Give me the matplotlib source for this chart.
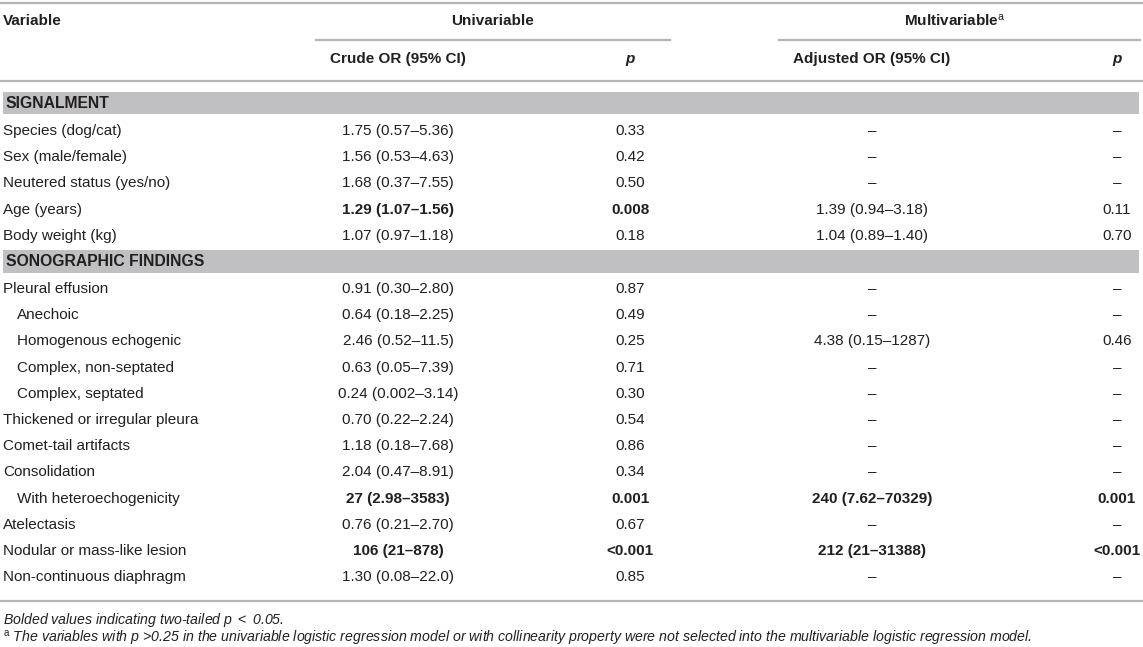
import matplotlib
matplotlib.use("Agg")
import matplotlib.pyplot as plt

plt.rcParams['font.family'] = ['Liberation Sans', 'DejaVu Sans']
plt.rcParams['mathtext.fontset'] = 'custom'
plt.rcParams['mathtext.rm'] = 'Liberation Sans'
plt.rcParams['mathtext.it'] = 'Liberation Sans:italic'
plt.rcParams['mathtext.bf'] = 'Liberation Sans:bold'

# table data
signalment_vars = ['Species (dog/cat)', 'Sex (male/female)', 'Neutered status (yes/no)',
                   'Age (years)', 'Body weight (kg)']
signalment_crude = ['1.75 (0.57–5.36)', '1.56 (0.53–4.63)', '1.68 (0.37–7.55)',
                    '1.29 (1.07–1.56)', '1.07 (0.97–1.18)']
signalment_p = ['0.33', '0.42', '0.50', '0.008', '0.18']
signalment_adj = ['–', '–', '–', '1.39 (0.94–3.18)', '1.04 (0.89–1.40)']
signalment_padj = ['–', '–', '–', '0.11', '0.70']
signalment_bold_uni = [False, False, False, True, False]
signalment_bold_multi = [False, False, False, False, False]
signalment_indent = [False] * 5

sono_vars = ['Pleural effusion', 'Anechoic', 'Homogenous echogenic', 'Complex, non-septated',
             'Complex, septated', 'Thickened or irregular pleura', 'Comet-tail artifacts',
             'Consolidation', 'With heteroechogenicity', 'Atelectasis',
             'Nodular or mass-like lesion', 'Non-continuous diaphragm']
sono_crude = ['0.91 (0.30–2.80)', '0.64 (0.18–2.25)', '2.46 (0.52–11.5)', '0.63 (0.05–7.39)',
              '0.24 (0.002–3.14)', '0.70 (0.22–2.24)', '1.18 (0.18–7.68)', '2.04 (0.47–8.91)',
              '27 (2.98–3583)', '0.76 (0.21–2.70)', '106 (21–878)', '1.30 (0.08–22.0)']
sono_p = ['0.87', '0.49', '0.25', '0.71', '0.30', '0.54', '0.86', '0.34', '0.001', '0.67',
          '<0.001', '0.85']
sono_adj = ['–', '–', '4.38 (0.15–1287)', '–', '–', '–', '–', '–', '240 (7.62–70329)', '–',
            '212 (21–31388)', '–']
sono_padj = ['–', '–', '0.46', '–', '–', '–', '–', '–', '0.001', '–', '<0.001', '–']
sono_bold_uni = [False] * 8 + [True, False, True, False]
sono_bold_multi = [False] * 8 + [True, False, True, False]
sono_indent = [False, True, True, True, True, False, False, False, True, False, False, False]

W, H = 1143, 647
fig = plt.figure(figsize=(W / 100, H / 100), dpi=100)
ax = fig.add_axes([0, 0, 1, 1])
ax.set_xlim(0, W)
ax.set_ylim(H, 0)
ax.axis('off')

txt = '#231f20'
rule = '#b4b4b4'
band = '#c0c0c2'
fs = 11

col_x = [398, 630, 872, 1117]

# header
ax.plot([0, W], [3, 3], color=rule, lw=1.6)
ax.text(3, 21, 'Variable', fontsize=fs, weight='bold', color=txt, va='center')
ax.text(493, 21, 'Univariable', fontsize=fs, weight='bold', color=txt, va='center', ha='center')
ax.text(955, 21, r'Multivariable$^{\mathrm{a}}$', fontsize=fs, weight='bold', color=txt,
        va='center', ha='center')
ax.plot([316, 670], [40, 40], color=rule, lw=1.6)
ax.plot([779, 1140], [40, 40], color=rule, lw=1.6)
ax.text(col_x[0], 59, 'Crude OR (95% CI)', fontsize=fs, weight='bold', color=txt,
        va='center', ha='center')
ax.text(col_x[1], 59, 'p', fontsize=fs, weight='bold', style='italic', color=txt,
        va='center', ha='center')
ax.text(col_x[2], 59, 'Adjusted OR (95% CI)', fontsize=fs, weight='bold', color=txt,
        va='center', ha='center')
ax.text(col_x[3], 59, 'p', fontsize=fs, weight='bold', style='italic', color=txt,
        va='center', ha='center')
ax.plot([0, W], [81, 81], color=rule, lw=1.6)

step = 26.2


def section(title, y_band, y0, names, crude, p, adj, padj, bu, bm, ind):
    ax.fill_between([3, 1139], y_band[0], y_band[1], color=band, lw=0)
    ax.text(6, (y_band[0] + y_band[1]) / 2 + 0.5, title, fontsize=11.3, weight='bold',
            color=txt, va='center')
    for i, name in enumerate(names):
        y = y0 + i * step
        ax.text(17 if ind[i] else 3, y, name, fontsize=fs, color=txt, va='center')
        wu = 'bold' if bu[i] else 'normal'
        wm = 'bold' if bm[i] else 'normal'
        ax.text(col_x[0], y, crude[i], fontsize=fs, weight=wu, color=txt, va='center', ha='center')
        ax.text(col_x[1], y, p[i], fontsize=fs, weight=wu, color=txt, va='center', ha='center')
        ax.text(col_x[2], y, adj[i], fontsize=fs, weight=wm, color=txt, va='center', ha='center')
        ax.text(col_x[3], y, padj[i], fontsize=fs, weight=wm, color=txt, va='center', ha='center')


section('SIGNALMENT', (92, 114), 131, signalment_vars, signalment_crude, signalment_p,
        signalment_adj, signalment_padj, signalment_bold_uni, signalment_bold_multi,
        signalment_indent)
section('SONOGRAPHIC FINDINGS', (250, 273), 289, sono_vars, sono_crude, sono_p,
        sono_adj, sono_padj, sono_bold_uni, sono_bold_multi, sono_indent)

ax.plot([0, W], [601, 601], color=rule, lw=1.6)

fn = 10.2
ax.text(3, 620, r'Bolded values indicating two-tailed p $<$ 0.05.', fontsize=fn,
        style='italic', color=txt, va='center')
ax.text(3, 638, r'$^{\mathrm{a}}$ The variables with p >0.25 in the univariable logistic '
        'regression model or with collinearity property were not selected into the '
        'multivariable logistic regression model.', fontsize=fn, style='italic',
        color=txt, va='center')

fig.savefig('out.png', dpi=100)
